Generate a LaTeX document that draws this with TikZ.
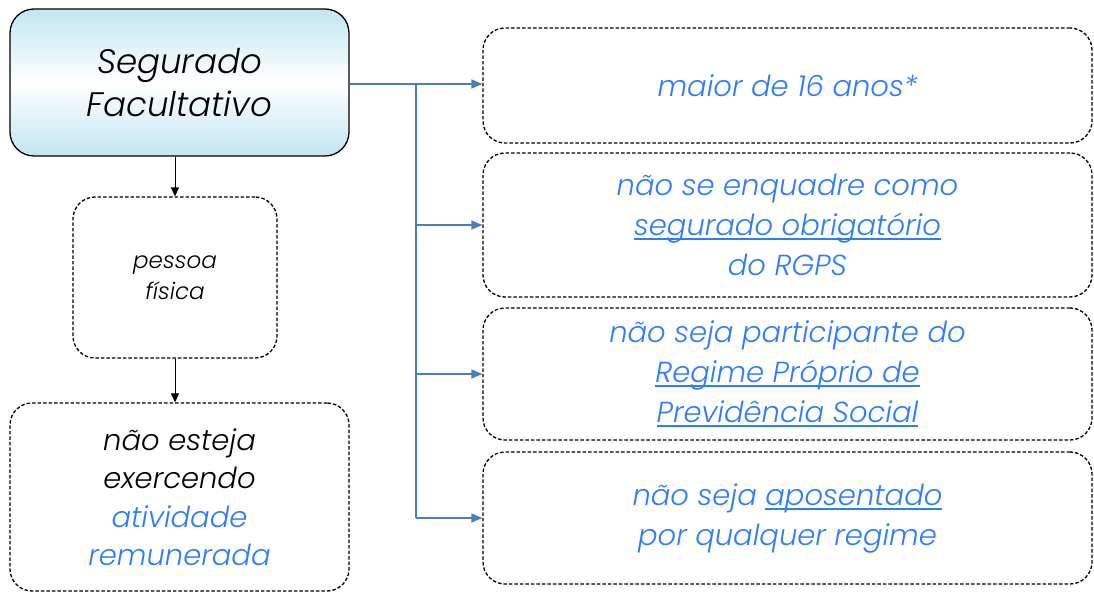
\documentclass[tikz,border=0pt]{standalone}
\usepackage{fontspec}
\setmainfont{Poppins}[UprightFont=* Light, ItalicFont=* Light Italic]
\usetikzlibrary{arrows.meta}
\definecolor{txtblue}{HTML}{2C7DF7}
\definecolor{lineblue}{HTML}{4A7EBB}
\definecolor{shblue}{HTML}{C3E5F2}
\newcommand\myul[1]{\setbox0\hbox{#1}\rlap{\rule[-4.5pt]{\wd0}{1.8pt}}\box0}
\begin{document}
\begin{tikzpicture}[x=1pt,y=-1pt,
  dbox/.style={draw=black, dash pattern=on 3.5pt off 2pt, line width=1.3pt, rounded corners=22pt, align=center, inner sep=0pt, fill=white},
  rbox/.style={dbox, minimum width=609pt, font=\fontsize{29}{40}\selectfont\itshape\color{txtblue}},
  blarrow/.style={draw=lineblue, line width=1.4pt, -{Triangle[length=11pt,width=9pt]}},
  bkarrow/.style={draw=black, line width=1pt, -{Triangle[length=9pt,width=8pt]}}]
\useasboundingbox (0,0) rectangle (1094,593);
% left column
\node[draw=black, line width=1.3pt, rounded corners=24pt, minimum width=339pt, minimum height=147pt,
      top color=shblue, bottom color=shblue, middle color=white, align=center,
      font=\fontsize{34}{43}\selectfont\itshape] (seg) at (179.5,82.5) {Segurado\\Facultativo};
\node[dbox, minimum width=204pt, minimum height=161pt, font=\fontsize{23}{31}\selectfont\itshape] (pf) at (175,277.5) {pessoa\\física};
\node[dbox, minimum width=339pt, minimum height=188pt, font=\fontsize{29}{38.5}\selectfont\itshape] (ne) at (179.5,497)
  {não esteja\\exercendo\\{\color{txtblue}atividade}\\{\color{txtblue}remunerada}};
% right column
\node[rbox, minimum height=115pt] (r1) at (787.5,85.5) {maior de 16 anos*};
\node[rbox, minimum height=144pt] (r2) at (787.5,225) {não se enquadre como\\\myul{segurado obrigatório}\\do RGPS};
\node[rbox, minimum height=132pt] (r3) at (787.5,374) {não seja participante do\\\myul{Regime Próprio de}\\\myul{Previdência Social}};
\node[rbox, minimum height=132pt] (r4) at (787.5,518) {não seja \myul{aposentado}\\por qualquer regime};
% connectors
\coordinate (j) at (416,84);
\draw[draw=lineblue, line width=1.4pt] (seg.east |- j) -- (j) |- (416,518);
\draw[blarrow] (j) -- (r1.west |- j);
\draw[blarrow] (j |- r2.west) -- (r2.west);
\draw[blarrow] (j |- r3.west) -- (r3.west);
\draw[blarrow] (j |- r4.west) -- (r4.west);
\draw[bkarrow] (seg.south -| pf.north) -- (pf.north);
\draw[bkarrow] (pf.south) -- (pf.south |- ne.north);
\end{tikzpicture}
\end{document}
